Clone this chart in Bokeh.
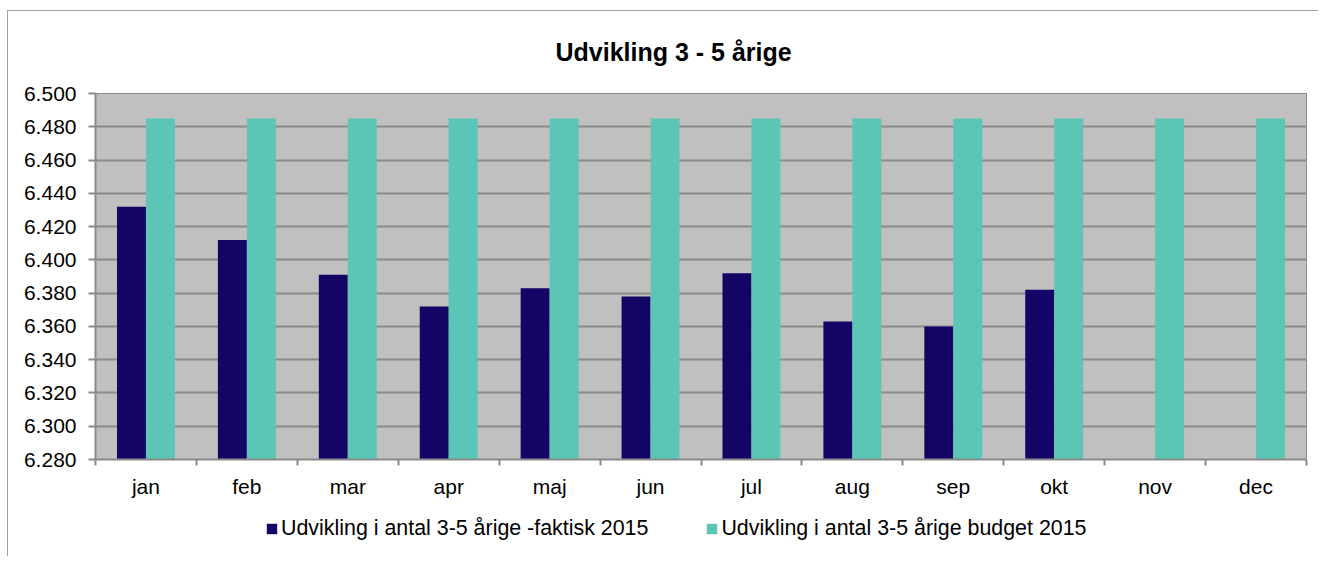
from bokeh.plotting import figure
from bokeh.layouts import column
from bokeh.models import (FixedTicker, CustomJSTickFormatter, Legend, LegendItem,
                          ColumnDataSource, Range1d)
from bokeh.embed import file_html
from bokeh.resources import INLINE

months = ["jan", "feb", "mar", "apr", "maj", "jun", "jul", "aug", "sep", "okt", "nov", "dec"]
faktisk = [6432, 6412, 6391, 6372, 6383, 6378, 6392, 6363, 6360, 6382]
budget = [6485] * 12
y_ticks = list(range(6280, 6501, 20))
title_text = "Udvikling 3 - 5 årige"
label_faktisk = "Udvikling i antal 3-5 årige -faktisk 2015"
label_budget = "Udvikling i antal 3-5 årige budget 2015"

FONT = "Liberation Sans"
DARK = "#130566"
TEAL = "#5BC5B6"
GRAY = "#8A8A8A"
W = 1310

bw = 0.287
src_f = ColumnDataSource(dict(x=[i + 0.5 - bw / 2 for i in range(len(faktisk))], top=faktisk))
src_b = ColumnDataSource(dict(x=[i + 0.5 + bw / 2 for i in range(len(budget))], top=budget))

p = figure(frame_width=1211, frame_height=366, output_backend="svg", toolbar_location=None,
           x_range=Range1d(0, 12), y_range=Range1d(6280, 6500),
           min_border_left=87, min_border_right=12, min_border_top=82, min_border_bottom=45)
p.background_fill_color = "#C0C0C0"
p.border_fill_color = "white"
p.outline_line_color = GRAY
p.outline_line_width = 1

p.title.text = title_text
p.title.text_font = FONT
p.title.text_font_size = "25px"
p.title.text_font_style = "bold"
p.title.text_color = "black"
p.title.align = "left"
p.title.offset = 460
p.title.vertical_align = "top"
p.title.standoff = 51

rf = p.vbar(x="x", top="top", bottom=6280, width=bw, source=src_f, fill_color=DARK, line_color=None)
rb = p.vbar(x="x", top="top", bottom=6280, width=bw, source=src_b, fill_color=TEAL, line_color=None)

xa = p.xaxis[0]
xa.ticker = FixedTicker(ticks=[i + 0.5 for i in range(12)], minor_ticks=list(range(13)))
xa.major_label_overrides = {i + 0.5: m for i, m in enumerate(months)}
xa.major_tick_out = 0
xa.major_tick_in = 0
xa.minor_tick_out = 6
xa.minor_tick_in = 0
xa.minor_tick_line_color = GRAY
xa.minor_tick_line_width = 2
xa.axis_line_color = GRAY
xa.axis_line_width = 2
xa.major_label_text_font = FONT
xa.major_label_text_font_size = "21px"
xa.major_label_text_color = "black"
xa.major_label_standoff = 9

ya = p.yaxis[0]
ya.ticker = FixedTicker(ticks=y_ticks)
ya.formatter = CustomJSTickFormatter(code="return (tick/1000).toFixed(3);")
ya.major_tick_out = 7
ya.major_tick_in = 0
ya.minor_tick_line_color = None
ya.major_tick_line_color = GRAY
ya.major_tick_line_width = 2
ya.axis_line_color = GRAY
ya.axis_line_width = 2
ya.major_label_text_font = FONT
ya.major_label_text_font_size = "21px"
ya.major_label_text_color = "black"
ya.major_label_standoff = 12

p.xgrid.grid_line_color = None
p.ygrid.ticker = FixedTicker(ticks=y_ticks)
p.ygrid.grid_line_color = GRAY
p.ygrid.grid_line_width = 2

# legend row: a frameless strip under the chart
lf = figure(width=W, height=52, output_backend="svg", toolbar_location=None,
            x_range=Range1d(0, 1), y_range=Range1d(0, 1), x_axis_type=None, y_axis_type=None,
            min_border=0, min_border_left=0, min_border_right=0, min_border_top=0,
            min_border_bottom=0)
lf.outline_line_color = None
lf.xgrid.grid_line_color = None
lf.ygrid.grid_line_color = None
lf.background_fill_color = "white"
lf.border_fill_color = "white"
# legend proxies: one bar each, placed far outside the visible range so only the key shows
proxy = dict(x=[-50.0], top=[-50.0])
lrf = lf.vbar(x="x", top="top", bottom=-51, width=0.1, source=ColumnDataSource(proxy),
              fill_color=DARK, line_color=None)
lrb = lf.vbar(x="x", top="top", bottom=-51, width=0.1, source=ColumnDataSource(dict(proxy)),
              fill_color=TEAL, line_color=None)

legend = Legend(items=[LegendItem(label=label_faktisk, renderers=[lrf]),
                       LegendItem(label=label_budget, renderers=[lrb])],
                orientation="horizontal", location=(170, 15),
                background_fill_alpha=0, border_line_color=None,
                label_text_font=FONT, label_text_font_size="21.4px", label_text_color="black",
                glyph_width=13, glyph_height=13, label_standoff=3, spacing=57,
                padding=0, margin=0)
lf.add_layout(legend, "center")

layout = column(p, lf, spacing=0)
layout.styles = {"border-left": "1px solid #A0A0A0", "border-top": "1px solid #A0A0A0",
                 "margin-left": "7px", "margin-top": "10px"}

open("out.html", "w").write(file_html(layout, INLINE))
